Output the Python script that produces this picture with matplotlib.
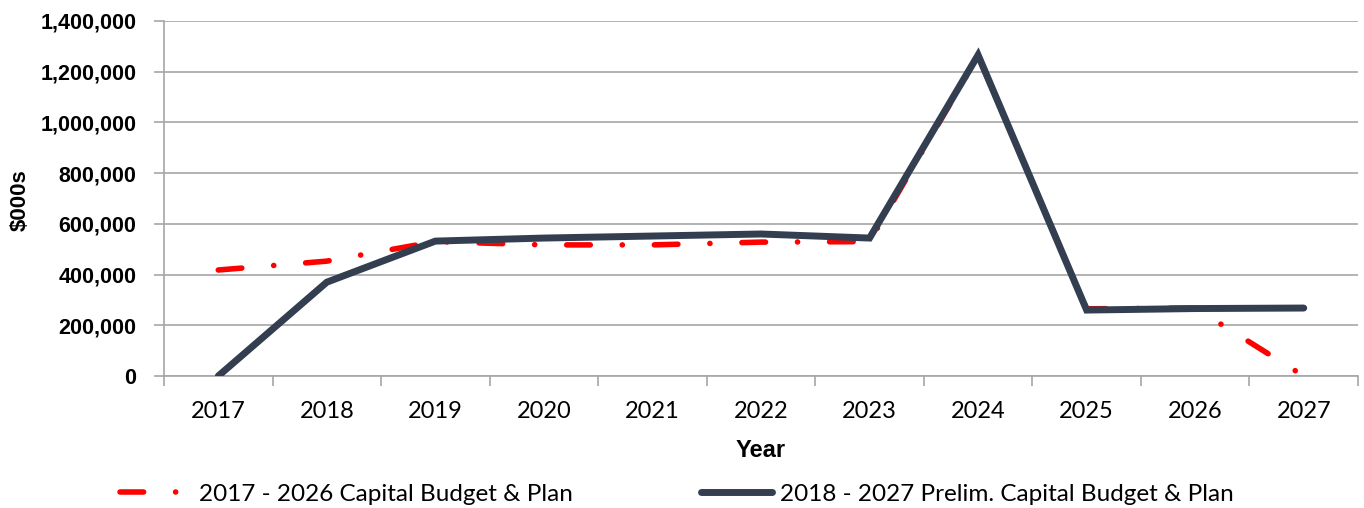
import matplotlib
matplotlib.use("Agg")
import matplotlib.pyplot as plt
from matplotlib.ticker import FuncFormatter, FixedLocator

plt.rcParams['lines.scale_dashes'] = False

years = ["2017", "2018", "2019", "2020", "2021", "2022", "2023", "2024", "2025", "2026", "2027"]
budget_2017_2026 = [418000, 453000, 530000, 517000, 517000, 528000, 530000, 1262000, 265000, 268000, 0]
prelim_2018_2027 = [0, 370000, 532000, 544000, 552000, 560000, 544000, 1266000, 260000, 266000, 268000]
series_labels = ["2017 - 2026 Capital Budget & Plan", "2018 - 2027 Prelim. Capital Budget & Plan"]

fig = plt.figure(figsize=(13.64, 5.08), dpi=100)
ax = fig.add_axes([164/1364, 1 - 376/508, (1358-164)/1364, (376-21)/508])

x = list(range(len(years)))
red, = ax.plot(x, budget_2017_2026, color='#ff0000', lw=4.0, solid_capstyle='round',
               dash_capstyle='round', dashes=(17, 23, 0.1, 23), label=series_labels[0], zorder=3)
gray, = ax.plot(x, prelim_2018_2027, color='#333f50', lw=5.0, solid_capstyle='round',
                solid_joinstyle='miter', label=series_labels[1], zorder=4)

ax.set_xlim(-0.5, len(years) - 0.5)
ax.set_ylim(0, 1400000)
ax.set_yticks(range(0, 1400001, 200000))
ax.yaxis.set_major_formatter(FuncFormatter(lambda v, p: f"{int(v):,}"))
ax.grid(axis='y', color='#a6a6a6', lw=1.2, zorder=0)
ax.set_axisbelow(True)

ax.set_xticks(x)
ax.set_xticklabels(years)
ax.xaxis.set_minor_locator(FixedLocator([i - 0.5 for i in range(len(years) + 1)]))
ax.tick_params(axis='x', which='major', length=0, pad=18, labelsize=17)
ax.tick_params(axis='x', which='minor', length=7, width=1.2, color='#a6a6a6', direction='out')
ax.tick_params(axis='y', length=7, width=1.2, color='#a6a6a6', pad=13, labelsize=15.5)
for lab in ax.get_xticklabels():
    lab.set_fontfamily('Lato')
for lab in ax.get_yticklabels():
    lab.set_fontfamily('Liberation Sans')
    lab.set_fontweight('bold')

for s in ['top', 'right']:
    ax.spines[s].set_visible(False)
for s in ['left', 'bottom']:
    ax.spines[s].set_color('#a6a6a6')
    ax.spines[s].set_linewidth(1.2)

ax.set_xlabel("Year", fontsize=17, fontweight='bold', family='Liberation Sans', labelpad=12)
fig.text(20/1364, 1 - 200/508, "$000s", rotation=90, ha='center', va='center',
         fontsize=16, fontweight='bold', family='Liberation Sans')

leg = fig.legend(handles=[red, gray], loc='center left', bbox_to_anchor=(120/1364, 14/508), ncol=2,
                 frameon=False, prop={'family': 'Lato', 'size': 17.5}, handlelength=2.9,
                 handletextpad=0.33, columnspacing=5.3, borderaxespad=0, borderpad=0)

fig.savefig("out.png", dpi=100)
